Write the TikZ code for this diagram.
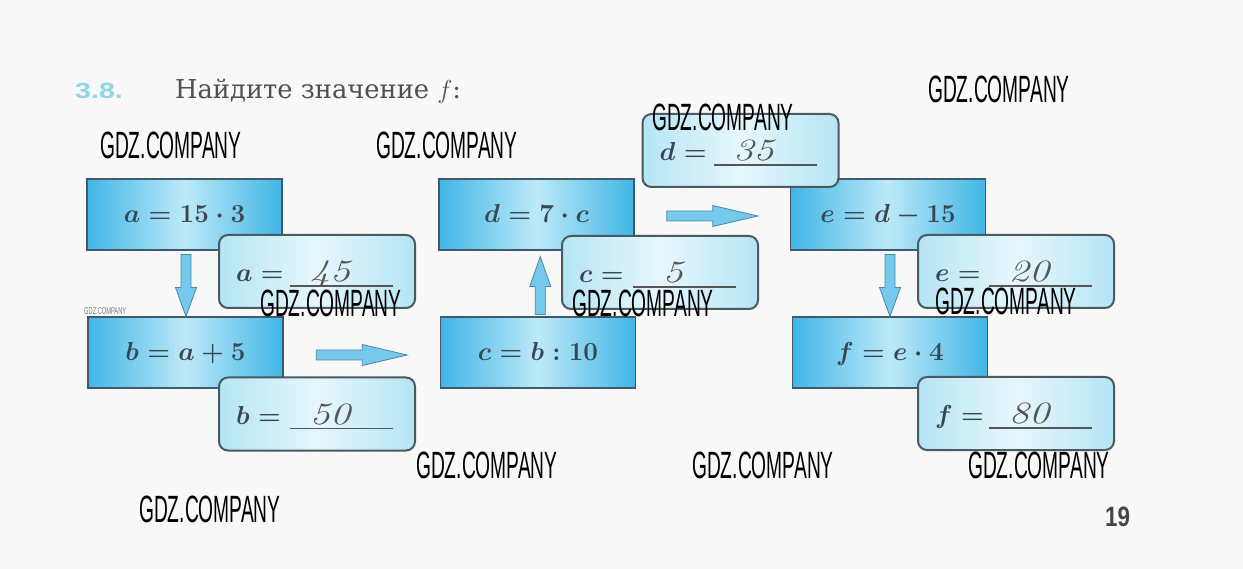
\RequirePackage{fix-cm}
\documentclass[tikz,border=0pt]{standalone}
\usepackage{amsmath}
\usepackage{fontspec}
\usetikzlibrary{calc}
\newfontfamily\wmfam{Liberation Sans}
\newfontfamily\serifru{DejaVu Serif}
\definecolor{bgc}{HTML}{F8F8F8}
\definecolor{bl1}{HTML}{40B6E6}
\definecolor{bl2}{HTML}{BDE9F8}
\definecolor{boxborder}{HTML}{3F5A69}
\definecolor{an1}{HTML}{B5E5F5}
\definecolor{an2}{HTML}{E6F7FC}
\definecolor{ansborder}{HTML}{4B5960}
\definecolor{arrfill}{HTML}{74C9EC}
\definecolor{arrdraw}{HTML}{4D88A5}
\definecolor{formula}{HTML}{3A4752}
\definecolor{handc}{HTML}{555555}
\definecolor{titlegray}{HTML}{505050}
\definecolor{numcyan}{HTML}{8DD6E6}
\definecolor{pagenum}{HTML}{454545}
\tikzset{
  calcbox/.style={draw=boxborder, line width=1.6, left color=bl1, right color=bl1, middle color=bl2,
    minimum width=195, minimum height=71, inner sep=0, text=formula,
    font=\fontsize{26}{30}\selectfont\boldmath, text height=17, text depth=0},
  ansbox/.style={draw=ansborder, line width=2, rounded corners=9, left color=an1, right color=an1, middle color=an2,
    minimum width=196, minimum height=73, inner sep=0},
  anslabel/.style={anchor=base west, inner sep=0, text=formula, font=\fontsize{26}{30}\selectfont\boldmath},
  handval/.style={anchor=base, inner sep=0, text=handc, font=\fontsize{31}{34}\selectfont\itshape},
  uline/.style={draw=handc, line width=1.2},
  arrowstyle/.style={draw=arrdraw, fill=arrfill, line width=0.8, line join=miter},
  wm/.style={anchor=north west, inner sep=0, text=black, font=\wmfam\fontsize{38}{40}\selectfont},
  pics/fatarr/.style args={#1/#2}{code={
    \path[arrowstyle] (-#1/2,-5) -- (#1/2-#2,-5) -- (#1/2-#2,-10.5) -- (#1/2,0)
      -- (#1/2-#2,10.5) -- (#1/2-#2,5) -- (-#1/2,5) -- cycle;
  }}
}
\begin{document}
\begin{tikzpicture}[x=1pt,y=-1pt]
\fill[bgc] (0,0) rectangle (1243,569);
\useasboundingbox (0,0) rectangle (1243,569);

% title
\node[anchor=base west, font=\wmfam\bfseries\fontsize{22}{26}\selectfont, text=numcyan, inner sep=0] (num) at (75,99) {\scalebox{1.3}[1]{3.8.}};
\node[anchor=base west, font=\serifru\fontsize{26}{30}\selectfont, text=titlegray, inner sep=0] (title) at (175,99) {\scalebox{0.99}[1]{Найдите значение $f$:}};

% calculation boxes
\node[calcbox] (A) at (184.5,214.5) {$a = 15\cdot 3$};
\node[calcbox] (B) at (185.5,352.5) {$b = a + 5$};
\node[calcbox] (D) at (536.5,214.5) {$d = 7\cdot c$};
\node[calcbox] (C) at (538,352.5) {$c = b : 10$};
\node[calcbox] (E) at (888,214.5) {$e = d - 15$};
\node[calcbox] (F) at (890,352.5) {$f = e\cdot 4$};

% answer boxes
\node[ansbox] (ansA) at (317,271.5) {};
\node[ansbox] (ansB) at (317,414) {};
\node[ansbox] (ansD) at (740.5,150.5) {};
\node[ansbox] (ansC) at (660,272.5) {};
\node[ansbox] (ansE) at (1016,271.5) {};
\node[ansbox] (ansF) at (1016,413.5) {};

\foreach \n/\l/\v in {ansA/a/45, ansB/b/50, ansD/d/35, ansC/c/5, ansE/e/20, ansF/f/80}{
  \node[anslabel] (\n-l) at ($(\n.north west)+(18,48)$) {$\l =$};
  \draw[uline] ($(\n.north west)+(72,52)$) -- ++(103,0);
  \node[handval] (\n-v) at ($(\n.north west)+(112,48)$) {\scalebox{1.3}[1]{\v}};
}

% arrows
\pic[rotate=-90] at ($(A.south)!0.5!(B.north)+(1,2)$) {fatarr=62/29};
\pic at ($(B.east)!0.5!(C.west)+(0,2.5)$) {fatarr=91/45};
\pic[rotate=90] at ($(C.north)!0.5!(D.south)+(3,2)$) {fatarr=58/30};
\pic at ($(D.east)!0.5!(E.west)+(0,1.5)$) {fatarr=91/45};
\pic[rotate=-90] at ($(E.south)!0.5!(F.north)+(1,2)$) {fatarr=62/29};

% watermarks
\foreach \i/\x/\y in {1/100/132, 2/376/132, 3/928/76, 4/652/104, 5/260/290, 6/572/290, 7/935/288, 8/416/452, 9/692/452, 10/968/452, 11/139/496}{
  \node[wm] (wm\i) at (\x,\y) {\scalebox{0.505}[1]{GDZ.COMPANY}};
}
\node[anchor=north west, inner sep=0, text=gray, font=\wmfam\fontsize{10}{11}\selectfont] (wmsmall) at (84,307) {\scalebox{0.57}[1]{GDZ.COMPANY}};

% page number
\node[anchor=north west, inner sep=0, text=pagenum, font=\wmfam\bfseries\fontsize{28}{30}\selectfont] (page) at (1105,507) {\scalebox{0.8}[1]{19}};
\end{tikzpicture}
\end{document}
